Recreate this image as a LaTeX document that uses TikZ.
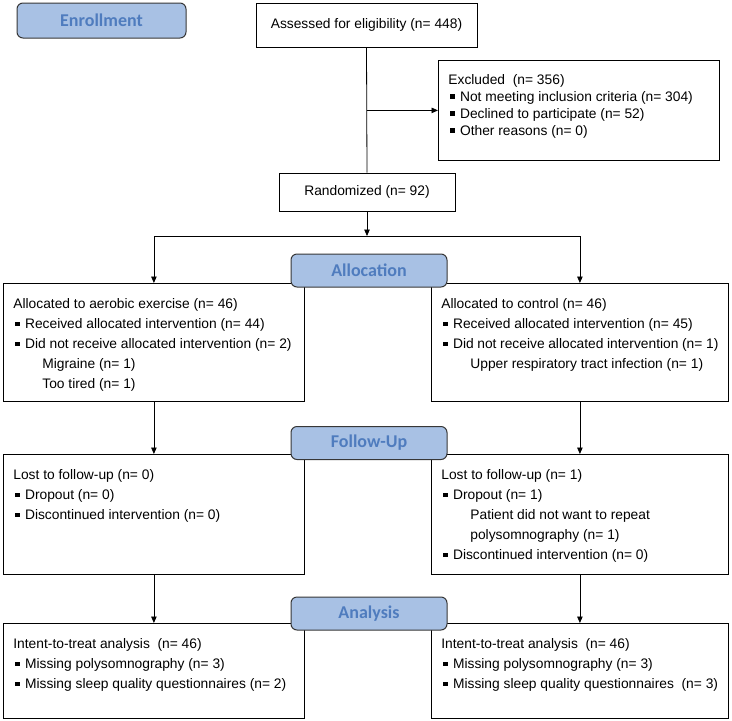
\documentclass[tikz,border=0pt]{standalone}
\usepackage{fontspec}
\setmainfont{Liberation Sans}
\newfontfamily\phasefont{Carlito}
\usetikzlibrary{arrows.meta}
\usepackage{xcolor}
\definecolor{phasefill}{RGB}{168,193,228}
\definecolor{phasetext}{RGB}{79,124,190}
\definecolor{phaseline}{RGB}{55,55,55}
\newcommand{\bul}{\hspace*{2pt}\rule[0.2em]{0.3em}{0.3em}\hspace{0.4em}}
\newcommand{\subind}{\hspace*{29pt}}
\newcommand{\boxtext}[3]{\begin{minipage}[t][#2][t]{#1}\strut\ignorespaces#3\end{minipage}}

\begin{document}
\begin{tikzpicture}[x=1pt,y=1pt]
  \tikzstyle{myline}=[line width=0.8pt];
  \tikzstyle{mytext}=[font=\fontsize{13.8}{20}\selectfont];
  \tikzstyle{flowbox}=[draw, myline, mytext, anchor=north west,
    inner xsep=10pt, inner ysep=11pt];
  \tikzstyle{onebox}=[draw, myline, mytext, inner sep=0pt];
  \tikzstyle{phase}=[draw=phaseline, line width=1pt, fill=phasefill,
    rounded corners=6pt, minimum width=156pt, minimum height=33pt,
    inner sep=0pt, text=phasetext,
    font=\phasefont\fontsize{18}{20}\selectfont\bfseries];
  \tikzstyle{myconn}=[myline, -{Triangle[length=6.5pt,width=5.5pt]}];
  \useasboundingbox (0,0) rectangle (732,-721);
  %
  % enrollment
  \node[phase, minimum width=169pt, minimum height=35pt] (enrol)
  at (101.5,-20.5) {Enrollment};
  %
  \node[onebox, minimum width=221pt, minimum height=44pt] (assess)
  at (366.5,-25) {Assessed for eligibility (n= 448)};
  %
  \node[flowbox, font=\fontsize{13.8}{17}\selectfont, inner ysep=12pt] (excl)
  at (438,-60) {\boxtext{261pt}{76pt}{Excluded\ \ (n= 356)\\
      \bul Not meeting inclusion criteria (n= 304)\\
      \bul Declined to participate (n= 52)\\
      \bul Other reasons (n= 0)}};
  %
  \node[onebox, minimum width=176pt, minimum height=38pt] (rand)
  at (367,-192) {Randomized (n= 92)};
  %
  \coordinate (split) at (367,-236);
  %
  % allocation
  \node[flowbox] (allocL) at (3,-283) {\boxtext{281pt}{96pt}{%
      Allocated to aerobic exercise (n= 46)\\
      \bul Received allocated intervention (n= 44)\\
      \bul Did not receive allocated intervention (n= 2)\\
      \subind Migraine (n= 1)\\
      \subind Too tired (n= 1)}};
  %
  \node[flowbox] (allocR) at (431,-283) {\boxtext{277pt}{96pt}{%
      Allocated to control (n= 46)\\
      \bul Received allocated intervention (n= 45)\\
      \bul Did not receive allocated intervention (n= 1)\\
      \subind Upper respiratory tract infection (n= 1)}};
  %
  % follow-up
  \node[flowbox] (followL) at (3,-454) {\boxtext{281pt}{98pt}{%
      Lost to follow-up (n= 0)\\
      \bul Dropout (n= 0)\\
      \bul Discontinued intervention (n= 0)}};
  %
  \node[flowbox] (followR) at (431,-454) {\boxtext{277pt}{98pt}{%
      Lost to follow-up (n= 1)\\
      \bul Dropout (n= 1)\\
      \subind Patient did not want to repeat\\
      \subind polysomnography (n= 1)\\
      \bul Discontinued intervention (n= 0)}};
  %
  % analysis
  \node[flowbox] (anaL) at (3,-623) {\boxtext{281pt}{73pt}{%
      Intent-to-treat analysis\ \ (n= 46)\\
      \bul Missing polysomnography (n= 3)\\
      \bul Missing sleep quality questionnaires (n= 2)}};
  %
  \node[flowbox] (anaR) at (431,-623) {\boxtext{277pt}{73pt}{%
      Intent-to-treat analysis\ \ (n= 46)\\
      \bul Missing polysomnography (n= 3)\\
      \bul Missing sleep quality questionnaires\ \ (n= 3)}};
  %
  % phase labels
  \node[phase] (alloc) at (369,-270.5) {Allocation};
  \node[phase] (follow) at (369,-443) {Follow-Up};
  \node[phase] (analysis) at (369,-613.5) {Analysis};
  %
  % connections
  \draw[myline] (assess.south) -- (rand.north);
  \draw[myconn] (assess.south |- excl.west) -- (excl.west);
  \draw[myconn] (rand.south) -- (split);
  \draw[myconn] (split) -| (allocL.north);
  \draw[myconn] (split) -| (allocR.north);
  %
  \draw[myconn] (allocL.south) -- (followL.north);
  \draw[myconn] (allocR.south) -- (followR.north);
  \draw[myconn] (followL.south) -- (anaL.north);
  \draw[myconn] (followR.south) -- (anaR.north);
\end{tikzpicture}
\end{document}
